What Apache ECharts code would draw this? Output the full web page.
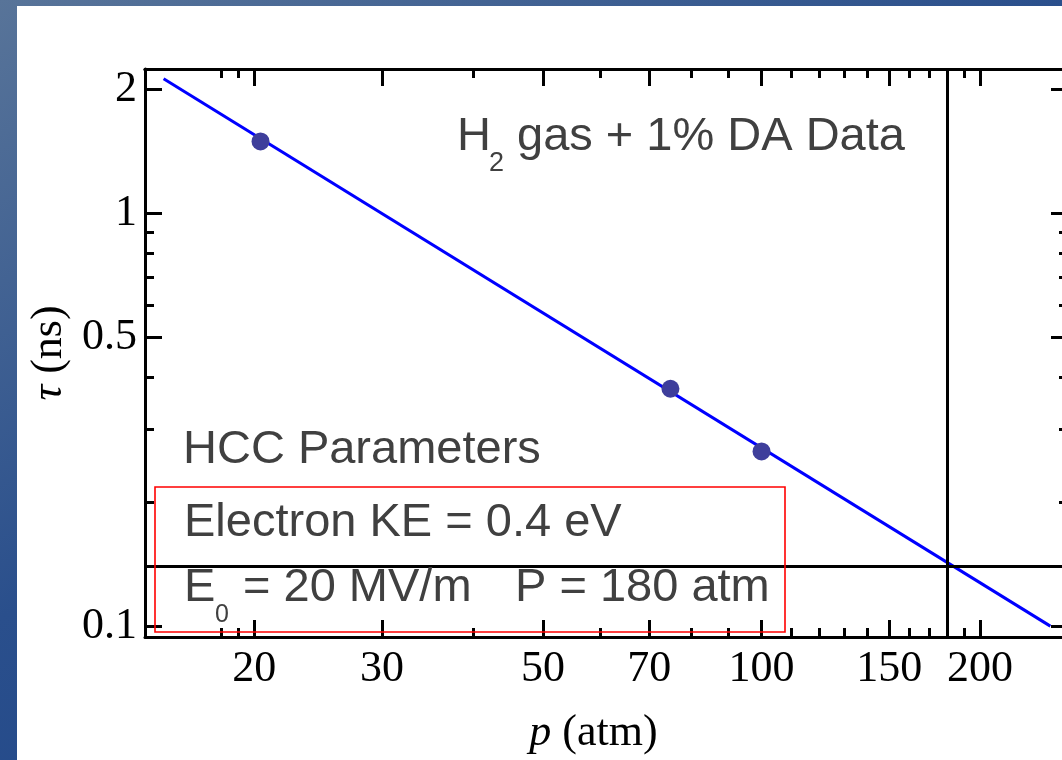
<!DOCTYPE html>
<html>
<head>
<meta charset="utf-8">
<title>tau vs p</title>
<script src="https://cdn.jsdelivr.net/npm/echarts@6/dist/echarts.min.js"></script>
<style>
    html, body { margin: 0; padding: 0; overflow: hidden; width: 1062px; height: 760px; }
    #frame {
        position: absolute; left: 0; top: 0; width: 1062px; height: 760px;
        background: linear-gradient(150deg, #587499 0%, #2a4f8c 45%, #173f86 100%);
    }
    #paper { position: absolute; left: 17px; top: 6px; width: 1045px; height: 754px; background: #fff; }
    /* wider than the window so the right frame of the plot can sit just off screen */
    #main { position: absolute; left: 0; top: 0; width: 1090px; height: 760px; }
</style>
</head>
<body>
<div id="frame"></div>
<div id="paper"></div>
<div id="main"></div>
<script>
// measured points (p in atm, tau in ns)
var pressure = [20.4, 74.9, 100];
var lifetime = [1.495, 0.376, 0.265];

// fitted power law line, end points
var fitP = [15, 250];
var fitTau = [2.12, 0.1];

// operating point lines
var markP = 180;
var markTau = 0.143;

// axis ranges and ticks
var xRange = [14.14, 264.4];
var yRange = [0.0941, 2.239];
var xMajor = [20, 30, 50, 70, 100, 150, 200];
var xMinor = [18, 19, 40, 60, 80, 90, 110, 120, 130, 140, 160, 170, 180, 190];
var yMajor = [0.1, 0.5, 1, 2];
var yMinor = [0.2, 0.3, 0.4, 0.6, 0.7, 0.8, 0.9];

var serif = '"Liberation Serif", "DejaVu Serif", serif';
var sans = '"Liberation Sans", Arial, sans-serif';
var textGray = '#404040';

function lg(v) { return Math.log10(v); }

function fmt(v) {
    return String(+Math.pow(10, v).toPrecision(3));
}

// value axis in log10 units, only used for drawing ticks / labels
function tickAxis(pos, range, values, len, withLabels) {
    var ax = {
        type: 'value',
        position: pos,
        min: lg(range[0]),
        max: lg(range[1]),
        axisLine: { show: false, onZero: false },
        splitLine: { show: false },
        axisTick: {
            show: true, inside: true, length: len,
            customValues: values.map(lg),
            lineStyle: { color: '#000', width: 3 }
        },
        axisLabel: { show: false }
    };
    if (withLabels) {
        ax.axisLabel = {
            show: true,
            customValues: values.map(lg),
            formatter: fmt,
            fontFamily: serif,
            fontSize: 44,
            color: '#000',
            margin: 10
        };
    }
    if (pos === 'top' || pos === 'right') {
        ax.axisLine = { show: true, onZero: false, lineStyle: { color: '#000', width: 3 } };
    }
    return ax;
}

var xAxes = [
    {
        type: 'log', logBase: 10, position: 'bottom',
        min: xRange[0], max: xRange[1],
        axisLine: { show: true, onZero: false, lineStyle: { color: '#000', width: 3 } },
        axisTick: { show: false }, axisLabel: { show: false }, splitLine: { show: false }
    },
    tickAxis('bottom', xRange, xMajor, 17, true),
    tickAxis('bottom', xRange, xMinor, 9, false),
    tickAxis('top', xRange, xMajor, 17, false),
    tickAxis('top', xRange, xMinor, 9, false)
];
xAxes[1].name = '{i|p} {n|(atm)}';
xAxes[1].nameLocation = 'middle';
xAxes[1].nameGap = 74;
xAxes[1].nameTextStyle = {
    fontFamily: serif, fontSize: 44, color: '#000', padding: [0, 26, 0, 0],
    rich: {
        i: { fontFamily: serif, fontSize: 44, fontStyle: 'italic', color: '#000' },
        n: { fontFamily: serif, fontSize: 44, color: '#000' }
    }
};

var yAxes = [
    {
        type: 'log', logBase: 10, position: 'left',
        min: yRange[0], max: yRange[1],
        axisLine: { show: true, onZero: false, lineStyle: { color: '#000', width: 3 } },
        axisTick: { show: false }, axisLabel: { show: false }, splitLine: { show: false }
    },
    tickAxis('left', yRange, yMajor, 17, true),
    tickAxis('left', yRange, yMinor, 9, false),
    tickAxis('right', yRange, yMajor, 17, false),
    tickAxis('right', yRange, yMinor, 9, false)
];
yAxes[1].axisLabel.margin = 8;
yAxes[1].name = '{i|τ} {n|(ns)}';
yAxes[1].nameLocation = 'middle';
yAxes[1].nameGap = 74;
yAxes[1].nameTextStyle = {
    fontFamily: serif, fontSize: 44, color: '#000',
    rich: {
        i: { fontFamily: serif, fontSize: 44, fontStyle: 'italic', color: '#000' },
        n: { fontFamily: serif, fontSize: 44, color: '#000' }
    }
};

var fitData = fitP.map(function (p, i) { return [p, fitTau[i]]; });
var pointData = pressure.map(function (p, i) { return [p, lifetime[i]]; });

function label(x, y, text, size) {
    return {
        type: 'text', x: x, y: y, z: 100,
        style: {
            text: text, fill: textGray,
            font: size + 'px ' + sans,
            align: 'left', verticalAlign: 'middle'
        }
    };
}

var myChart = echarts.init(document.getElementById('main'));
var option = {
    animation: false,
    backgroundColor: 'transparent',
    grid: { left: 145, top: 69, width: 923, height: 570, containLabel: false },
    xAxis: xAxes,
    yAxis: yAxes,
    series: [
        {
            name: 'fit',
            type: 'line',
            xAxisIndex: 0, yAxisIndex: 0,
            data: fitData,
            showSymbol: false,
            lineStyle: { color: '#0000ff', width: 3 },
            markLine: {
                silent: true,
                symbol: ['none', 'none'],
                label: { show: false },
                lineStyle: { color: '#000', width: 3, type: 'solid' },
                data: [{ xAxis: markP }, { yAxis: markTau }]
            },
            z: 3
        },
        {
            name: 'data',
            type: 'scatter',
            xAxisIndex: 0, yAxisIndex: 0,
            data: pointData,
            symbolSize: 18,
            itemStyle: { color: '#3e3e9b', opacity: 1 },
            z: 4
        }
    ],
    graphic: [
        label(457, 137, 'H', 47),
        label(489, 164, '2', 27),
        label(517, 137, 'gas + 1% DA Data', 47),
        label(183, 450, 'HCC Parameters', 47),
        label(184, 523, 'Electron KE = 0.4 eV', 47),
        label(184, 588, 'E', 47),
        label(215, 615, '0', 25),
        label(243, 588, '= 20 MV/m', 47),
        label(515, 588, 'P = 180 atm', 47),
        {
            type: 'rect', z: 100,
            shape: { x: 155, y: 487, width: 630, height: 145 },
            style: { fill: null, stroke: '#ff0000', lineWidth: 1.6 }
        }
    ]
};
myChart.setOption(option);
</script>
</body>
</html>
